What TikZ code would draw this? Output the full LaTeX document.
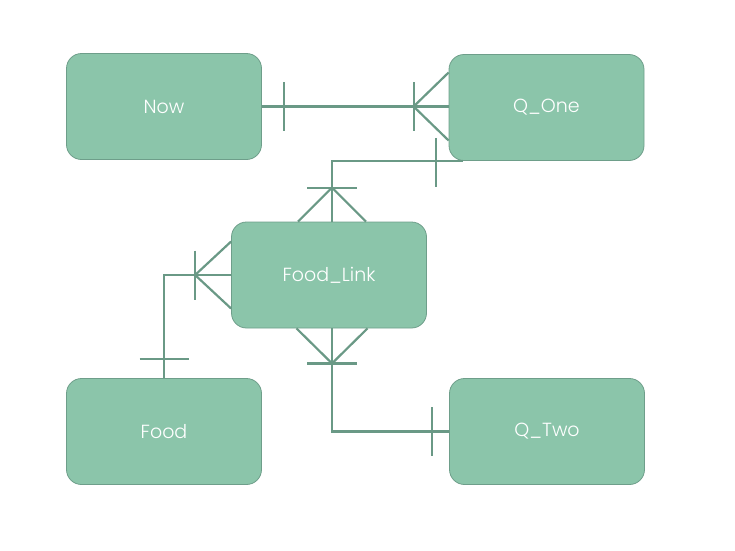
\documentclass[tikz,border=0pt]{standalone}
\usepackage{fontspec}
\setmainfont{Poppins Light}
\usetikzlibrary{calc}
\usetikzlibrary{positioning}
\definecolor{boxfill}{HTML}{8BC5AA}
\definecolor{boxline}{HTML}{6E9E8A}
\definecolor{relline}{HTML}{6A9986}
\tikzset{
    entity/.style = {rectangle, rounded corners=15pt, draw=boxline, line width=0.8pt, fill=boxfill,
                     minimum width=195pt, minimum height=106pt, text=white, font=\fontsize{19}{22}\selectfont},
    rel/.style = {draw=relline, line width=2.2pt},
    tick/.style = {draw=relline, line width=2.2pt}, % one
    crow/.style = {draw=relline, line width=2.2pt}  % many
}

\begin{document}
\begin{tikzpicture}[x=1pt,y=-1pt]
  \useasboundingbox (0,0) rectangle (735,550);

  \node[entity] (now)  at (164,106.5) {Now};
  \node[entity] (qone) at (546.5,107.5) {Q\_One};
  \node[entity] (link) at (329,275) {Food\_Link};
  \node[entity] (food) at (164,431.5) {Food};
  \node[entity] (qtwo) at (547,431.5) {Q\_Two};

  % Now -- Q_One
  \coordinate (qonein) at (now.east -| qone.west);
  \draw[rel] (now.east) -- (qonein);
  \draw[tick] ($(now.east)+(22,-24.5)$) -- ++(0,49);
  \draw[tick] ($(qonein)+(-35,-24.5)$) -- ++(0,49);
  \draw[crow] ($(qonein)+(0,-34)$) -- ($(qonein)+(-35,0)$) -- ($(qonein)+(0,34)$);

  % Q_One -- Food_Link
  \coordinate (qonefoot) at ($(qone.south west)+(14,0)$);
  \draw[rel] (qonefoot) -| ([xshift=3pt]link.north);
  \draw[tick] ($(qone.south west)+(-13,-23)$) -- ++(0,49);
  \draw[tick] ($(link.north)+(-22,-34)$) -- ++(50,0);
  \draw[crow] ($(link.north)+(-31,0)$) -- ($(link.north)+(3,-34)$) -- ($(link.north)+(37,0)$);

  % Food -- Food_Link
  \draw[rel] (link.west) -| (food.north);
  \draw[tick] ($(link.west)+(-36,-24.5)$) -- ++(0,49);
  \draw[crow] ($(link.west)+(0,-33.5)$) -- ($(link.west)+(-36,0)$) -- ($(link.west)+(0,33.5)$);
  \draw[tick] ($(food.north)+(-24.5,-19)$) -- ++(49,0);

  % Food_Link -- Q_Two
  \draw[rel] ([xshift=3pt]link.south) |- (qtwo.west);
  \draw[tick] ($(link.south)+(-22,35)$) -- ++(50,0);
  \draw[crow] ($(link.south)+(-32.5,0)$) -- ($(link.south)+(3,35)$) -- ($(link.south)+(38.5,0)$);
  \draw[tick] ($(qtwo.west)+(-17,-24.5)$) -- ++(0,49);
\end{tikzpicture}
\end{document}
